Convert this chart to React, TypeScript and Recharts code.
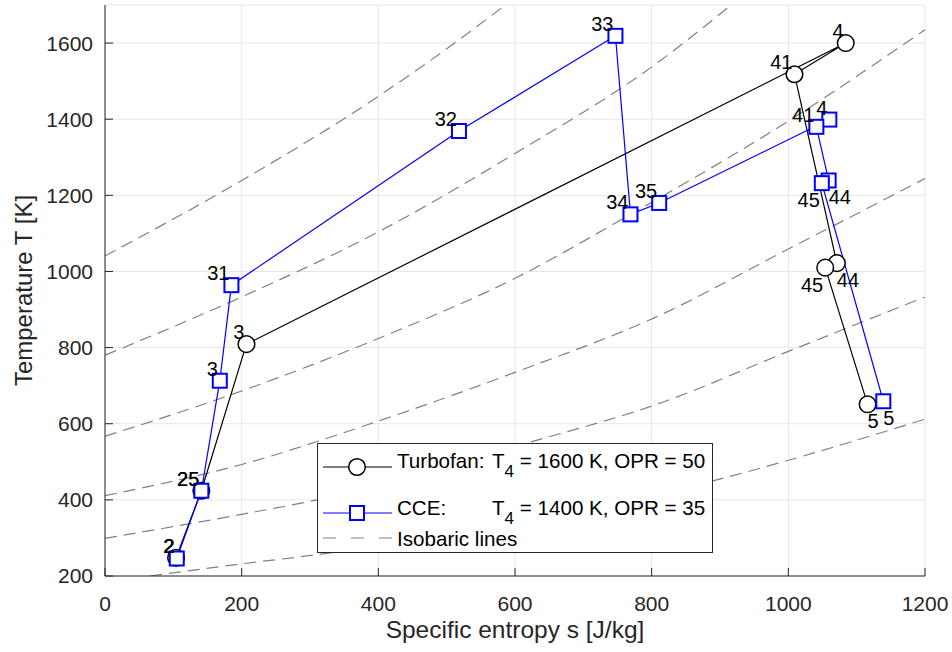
import React from 'react';
import { LineChart, Line, XAxis, YAxis, CartesianGrid, Legend, LabelList } from 'recharts';

// ---- Data ----
const turbofanStations = ['2', '25', '3', '4', '41', '44', '45', '5'];
const turbofanS = [104, 141, 207, 1084, 1009, 1071, 1054, 1116];
const turbofanT = [248, 424, 809, 1600, 1518, 1022, 1010, 651];

const cceStations = ['2', '25', '3', '31', '32', '33', '34', '35', '4', '41', '44', '45', '5'];
const cceS = [105, 141, 168, 185, 518, 747, 769, 811, 1060, 1041, 1059, 1049, 1139];
const cceT = [246, 424, 713, 964, 1369, 1619, 1150, 1180, 1399, 1380, 1239, 1232, 659];

// Isobaric lines (read at several entropy values)
const isobar1S = [0, 200, 400, 500, 586];
const isobar1T = [1041, 1239, 1460, 1585, 1700];
const isobar2S = [0, 200, 400, 600, 806, 915];
const isobar2T = [780, 933, 1104, 1310, 1545, 1698];
const isobar3S = [0, 200, 400, 600, 769, 1000, 1200];
const isobar3T = [567, 686, 824, 982, 1150, 1395, 1635];
const isobar4S = [0, 200, 400, 600, 806, 1000, 1200];
const isobar4T = [411, 493, 607, 735, 880, 1059, 1244];
const isobar5S = [0, 200, 310, 625, 806, 1000, 1200];
const isobar5T = [299, 362, 400, 553, 650, 790, 933];
const isobar6S = [66, 200, 310, 898, 1200];
const isobar6T = [200, 232, 256, 454, 612];

const xTicks = [0, 200, 400, 600, 800, 1000, 1200];
const yTicks = [200, 400, 600, 800, 1000, 1200, 1400, 1600];

// ---- Label placement styles (tl: above-left, br: below-right, bl: below-left) ----
const turbofanLabelPlacement = ['tl', 'tl', 'tl', 'tl', 'tl', 'br', 'bl', 'br'];
const cceLabelPlacement = ['tl', 'tl', 'tl', 'tl', 'tl', 'tl', 'tl', 'tl', 'tl', 'tl', 'br', 'bl', 'br'];

const turbofanData = turbofanS.map((s, i) => ({ s, T: turbofanT[i], name: turbofanStations[i] }));
const cceData = cceS.map((s, i) => ({ s, T: cceT[i], name: cceStations[i] }));
const isobars = [
  [isobar1S, isobar1T],
  [isobar2S, isobar2T],
  [isobar3S, isobar3T],
  [isobar4S, isobar4T],
  [isobar5S, isobar5T],
  [isobar6S, isobar6T],
].map(([ss, ts]) => ss.map((s, i) => ({ s, T: ts[i] })));

const FONT = '"Liberation Sans", Arial, Helvetica, sans-serif';
const AXIS_COLOR = '#262626';
const ISO_COLOR = '#808080';
const LEG_FS = 20.6;

const makeLabel = (placements: string[]) => (props: any) => {
  const { x, y, value, index } = props;
  const p = placements[index];
  let tx = x - 2;
  let ty = y - 5;
  let anchor: 'start' | 'end' = 'end';
  if (p === 'br') {
    tx = x;
    ty = y + 24;
    anchor = 'start';
  } else if (p === 'bl') {
    tx = x - 2;
    ty = y + 24;
    anchor = 'end';
  }
  return (
    <text x={tx} y={ty} textAnchor={anchor} fontSize={20} fill="#000" fontFamily={FONT}>
      {value}
    </text>
  );
};

const CircleDot = (props: any) => {
  const { cx, cy, index } = props;
  if (cx == null || cy == null) return <g key={`c-${index}`} />;
  return <circle key={`c-${index}`} cx={cx} cy={cy} r={8.3} fill="#fff" stroke="#000" strokeWidth={1.5} />;
};

const SquareDot = (props: any) => {
  const { cx, cy, index } = props;
  if (cx == null || cy == null) return <g key={`q-${index}`} />;
  return (
    <rect key={`q-${index}`} x={cx - 7} y={cy - 7} width={14} height={14} fill="#fff" stroke="#0000ff" strokeWidth={2} />
  );
};

const LegendBox = () => (
  <svg width={396} height={110} style={{ display: 'block', fontFamily: FONT }}>
    <rect x={0.5} y={0.5} width={395} height={109} fill="#fff" stroke={AXIS_COLOR} strokeWidth={1} />
    <line x1={6} x2={75} y1={24} y2={24} stroke="#000" strokeWidth={1.2} />
    <circle cx={40} cy={24} r={8.3} fill="#fff" stroke="#000" strokeWidth={1.5} />
    <text x={80} y={25} fontSize={LEG_FS} fill="#000">Turbofan:</text>
    <text x={175} y={25} fontSize={LEG_FS} fill="#000">
      T<tspan dy={9} fontSize={17}>4</tspan>
      <tspan dy={-9}> = 1600 K, OPR = 50</tspan>
    </text>
    <line x1={6} x2={75} y1={70} y2={70} stroke="#0000ff" strokeWidth={1.2} />
    <rect x={33} y={63} width={14} height={14} fill="#fff" stroke="#0000ff" strokeWidth={2} />
    <text x={80} y={72} fontSize={LEG_FS} fill="#000">CCE:</text>
    <text x={175} y={72} fontSize={LEG_FS} fill="#000">
      T<tspan dy={9} fontSize={17}>4</tspan>
      <tspan dy={-9}> = 1400 K, OPR = 35</tspan>
    </text>
    <line x1={6} x2={75} y1={95} y2={95} stroke={ISO_COLOR} strokeWidth={1.2} strokeDasharray="13 15" />
    <text x={80} y={103} fontSize={LEG_FS} fill="#000">Isobaric lines</text>
  </svg>
);

const XLabel = (props: any) => {
  const vb = props.viewBox || {};
  const cx = vb.x + vb.width / 2;
  return (
    <text x={cx} y={638} textAnchor="middle" fontSize={24.5} fill={AXIS_COLOR} fontFamily={FONT}>
      Specific entropy s [J/kg]
    </text>
  );
};

const YLabel = (props: any) => {
  const vb = props.viewBox || {};
  const cy = vb.y + vb.height / 2;
  return (
    <text
      transform={`translate(32, ${cy}) rotate(-90)`}
      textAnchor="middle"
      fontSize={24}
      fill={AXIS_COLOR}
      fontFamily={FONT}
    >
      Temperature T [K]
    </text>
  );
};

export default function App() {
  return (
    <div style={{ position: 'absolute', left: 0, top: 0, width: 952, height: 652, background: '#fff', fontFamily: FONT }}>
      <LineChart width={952} height={652} margin={{ top: 5, right: 27, bottom: 16, left: 0 }}>
        <CartesianGrid stroke="#e6e6e6" strokeWidth={1} />
        <XAxis
          type="number"
          dataKey="s"
          domain={[0, 1200]}
          ticks={xTicks}
          interval={0}
          allowDataOverflow
          height={60}
          tickSize={-8}
          tickMargin={28}
          stroke={AXIS_COLOR}
          tick={{ fill: AXIS_COLOR, fontSize: 21 }}
          label={{ content: XLabel }}
        />
        <YAxis
          type="number"
          dataKey="T"
          domain={[200, 1700]}
          ticks={yTicks}
          interval={0}
          allowDataOverflow
          width={105}
          tickSize={-8}
          tickMargin={20}
          stroke={AXIS_COLOR}
          tick={{ fill: AXIS_COLOR, fontSize: 21 }}
          label={{ content: YLabel }}
        />
        {isobars.map((d, i) => (
          <Line
            key={`iso-${i}`}
            data={d}
            dataKey="T"
            type="monotone"
            stroke={ISO_COLOR}
            strokeWidth={1.2}
            strokeDasharray="12 7"
            dot={false}
            activeDot={false}
            isAnimationActive={false}
            legendType="none"
          />
        ))}
        <Line
          data={turbofanData}
          dataKey="T"
          type="linear"
          stroke="#000"
          strokeWidth={1.2}
          dot={CircleDot}
          activeDot={false}
          isAnimationActive={false}
        >
          <LabelList dataKey="name" content={makeLabel(turbofanLabelPlacement)} />
        </Line>
        <Line
          data={cceData}
          dataKey="T"
          type="linear"
          stroke="#0000ff"
          strokeWidth={1.2}
          dot={SquareDot}
          activeDot={false}
          isAnimationActive={false}
        >
          <LabelList dataKey="name" content={makeLabel(cceLabelPlacement)} />
        </Line>
        <Legend
          layout="horizontal"
          verticalAlign="middle"
          align="center"
          wrapperStyle={{ position: 'absolute', left: 317, top: 443, width: 396, height: 110 }}
          content={() => <LegendBox />}
        />
      </LineChart>
    </div>
  );
}
